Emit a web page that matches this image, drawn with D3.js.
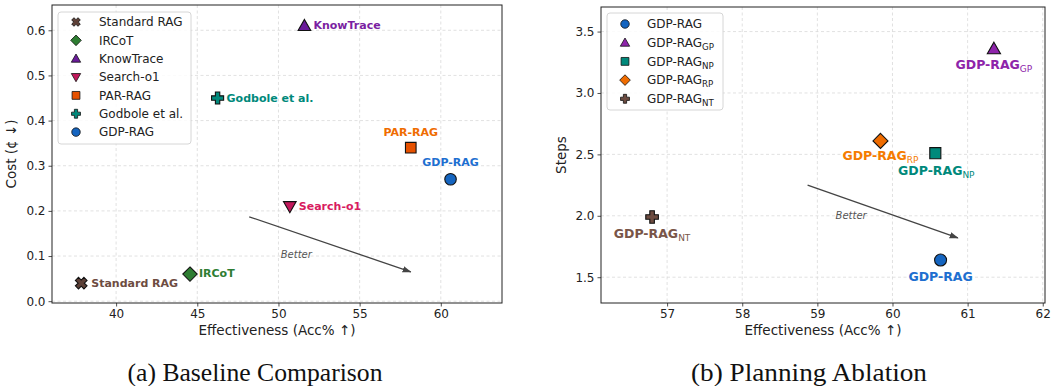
<!DOCTYPE html>
<html><head><meta charset="utf-8">
<script src="https://cdn.jsdelivr.net/npm/d3@7"></script>
<style>
body{margin:0;background:#fff;}
svg{display:block;}
</style></head>
<body><svg id="c" width="1051" height="386" font-family="DejaVu Sans, sans-serif"></svg>
<script>
// ---------- data: (a) Baseline Comparison ----------
const baseMethods = ["Standard RAG","IRCoT","KnowTrace","Search-o1","PAR-RAG","Godbole et al.","GDP-RAG"];
const baseAcc  = [37.85, 44.55, 51.6, 50.7, 58.15, 46.25, 60.6];
const baseCost = [0.04, 0.06, 0.61, 0.21, 0.34, 0.45, 0.27];
const baseXTicks = [40,45,50,55,60];
const baseYTicks = [0.0,0.1,0.2,0.3,0.4,0.5,0.6];
const baseArrow = [[48.2,0.187],[58.15,0.065]];
const baseBetter = [51.1, 0.104];

// ---------- data: (b) Planning Ablation ----------
const ablVariants = [["GDP-RAG",""],["GDP-RAG","GP"],["GDP-RAG","NP"],["GDP-RAG","RP"],["GDP-RAG","NT"]];
const ablAcc   = [60.64, 61.35, 60.57, 59.84, 56.8];
const ablSteps = [1.64, 3.36, 2.51, 2.61, 1.99];
const ablXTicks = [57,58,59,60,61,62];
const ablYTicks = [1.5,2.0,2.5,3.0,3.5];
const ablArrow = [[58.87,2.25],[60.87,1.82]];
const ablBetter = [59.45, 2.0];

// ---------- styles ----------
const baseStyle = {
  "Standard RAG":  {sym:"x",   fill:"#5d4037", text:"#6d4c41", dx:10, dy:0,  anchor:"start"},
  "IRCoT":         {sym:"diamond", fill:"#2e7d32", text:"#2e7d32", dx:9, dy:-1, anchor:"start"},
  "KnowTrace":     {sym:"tri", fill:"#6a1b9a", text:"#7b1fa2", dx:9, dy:-1, anchor:"start"},
  "Search-o1":     {sym:"tridown", fill:"#c2185b", text:"#d81b60", dx:9, dy:0, anchor:"start"},
  "PAR-RAG":       {sym:"square", fill:"#e65100", text:"#ef6c00", dx:0, dy:-16, anchor:"middle"},
  "Godbole et al.":{sym:"plus", fill:"#00897b", text:"#00897b", dx:9, dy:0, anchor:"start"},
  "GDP-RAG":       {sym:"circle", fill:"#1565c0", text:"#1e6fd0", dx:0, dy:-17, anchor:"middle"}
};
const ablStyle = [
  {sym:"circle", fill:"#1565c0", text:"#1e6fd0", dx:0, dy:16, anchor:"middle"},
  {sym:"tri", fill:"#8e24aa", text:"#8e24aa", dx:0, dy:15.5, anchor:"middle"},
  {sym:"square", fill:"#00897b", text:"#00897b", dx:1, dy:17.5, anchor:"middle"},
  {sym:"diamond", fill:"#ef6c00", text:"#f57c00", dx:0, dy:14.5, anchor:"middle"},
  {sym:"plus", fill:"#6d4c41", text:"#795548", dx:0, dy:16, anchor:"middle"}
];

const svg = d3.select("#c");
svg.append("rect").attr("width",1051).attr("height",386).attr("fill","#fff");

const defs = svg.append("defs");
defs.append("marker").attr("id","ah").attr("viewBox","0 0 10 10").attr("refX",9).attr("refY",5)
  .attr("markerWidth",7).attr("markerHeight",7).attr("orient","auto-start-reverse")
  .append("path").attr("d","M0,1.5 L10,5 L0,8.5 z").attr("fill","#444");

function symPath(sym, s){
  const r = s/2;
  switch(sym){
    case "circle": return d3.symbol(d3.symbolCircle, Math.PI*r*r)();
    case "square": return d3.symbol(d3.symbolSquare, s*s*0.85)();
    case "diamond": {const h=r*1.25; return `M0,${-h}L${h},0L0,${h}L${-h},0Z`;}
    case "tri": {const h=r*1.1; return `M0,${-h}L${h},${h*0.75}L${-h},${h*0.75}Z`;}
    case "tridown": {const h=r*1.1; return `M0,${h}L${h},${-h*0.75}L${-h},${-h*0.75}Z`;}
    case "plus":
    case "x": {const a=r*0.38, b=r*1.05; return `M${-a},${-b}H${a}V${-a}H${b}V${a}H${a}V${b}H${-a}V${a}H${-b}V${-a}H${-a}Z`;}
  }
}
function symTransform(sym,x,y){ return `translate(${x},${y})` + (sym==="x"?" rotate(45)":""); }

function panel(cfg){
  const g = svg.append("g");
  const x = d3.scaleLinear().domain(cfg.xdom).range([cfg.L, cfg.R]);
  const y = d3.scaleLinear().domain(cfg.ydom).range([cfg.B, cfg.T]);
  g.append("g").selectAll("line").data(cfg.xt).join("line")
    .attr("x1",d=>x(d)).attr("x2",d=>x(d)).attr("y1",cfg.T).attr("y2",cfg.B)
    .attr("stroke","#d9d9d9").attr("stroke-width",0.8).attr("stroke-dasharray","3,2.5");
  g.append("g").selectAll("line").data(cfg.yt).join("line")
    .attr("y1",d=>y(d)).attr("y2",d=>y(d)).attr("x1",cfg.L).attr("x2",cfg.R)
    .attr("stroke","#d9d9d9").attr("stroke-width",0.8).attr("stroke-dasharray","3,2.5");
  const xa = g.append("g").attr("transform",`translate(0,${cfg.B})`)
    .call(d3.axisBottom(x).tickValues(cfg.xt).tickFormat(d3.format("d")).tickSize(3.5).tickPadding(3));
  const ya = g.append("g").attr("transform",`translate(${cfg.L},0)`)
    .call(d3.axisLeft(y).tickValues(cfg.yt).tickFormat(d3.format(".1f")).tickSize(3.5).tickPadding(3));
  [xa,ya].forEach(a=>{
    a.attr("font-family",null);
    a.select(".domain").remove();
    a.selectAll("text").attr("font-size",12).attr("fill","#222").style("font-family","DejaVu Sans, sans-serif");
    a.selectAll("line").attr("stroke","#222").attr("stroke-width",0.8);
  });
  g.append("rect").attr("x",cfg.L).attr("y",cfg.T).attr("width",cfg.R-cfg.L).attr("height",cfg.B-cfg.T)
    .attr("fill","none").attr("stroke","#222").attr("stroke-width",1);
  g.append("text").attr("x",(cfg.L+cfg.R)/2).attr("y",335).attr("text-anchor","middle")
    .attr("font-size",13.5).attr("fill","#222").text("Effectiveness (Acc% ↑)");
  g.append("text").attr("transform",`translate(${cfg.ylabX},${(cfg.T+cfg.B)/2}) rotate(-90)`)
    .attr("text-anchor","middle").attr("font-size",13.5).attr("fill","#222").text(cfg.ylab);
  g.append("line").attr("x1",x(cfg.arrow[0][0])).attr("y1",y(cfg.arrow[0][1]))
    .attr("x2",x(cfg.arrow[1][0])).attr("y2",y(cfg.arrow[1][1]))
    .attr("stroke","#444").attr("stroke-width",1.3).attr("marker-end","url(#ah)");
  g.append("text").attr("x",x(cfg.better[0])).attr("y",y(cfg.better[1])).attr("dy","0.35em")
    .attr("text-anchor","middle").attr("font-size",10).attr("font-style","italic").attr("fill","#555").text("Better");
  cfg.pts.forEach(p=>{
    g.append("path").attr("d",symPath(p.st.sym,cfg.ms)).attr("transform",symTransform(p.st.sym,x(p.x),y(p.y)))
      .attr("fill",p.st.fill).attr("stroke","#111").attr("stroke-width",1.1);
    const t = g.append("text").attr("x",x(p.x)+p.st.dx).attr("y",y(p.y)+p.st.dy).attr("dy","0.36em")
      .attr("text-anchor",p.st.anchor).attr("font-size",cfg.lfs).attr("font-weight","bold").attr("fill",p.st.text);
    t.append("tspan").text(p.name);
    if(p.sub) t.append("tspan").attr("font-size",cfg.lfs*0.72).attr("font-weight","normal").attr("dy",3).text(p.sub);
  });
  const lg = g.append("g");
  lg.append("rect").attr("x",cfg.leg.x).attr("y",cfg.leg.y).attr("width",cfg.leg.w).attr("height",cfg.leg.h)
    .attr("rx",3).attr("fill","#fff").attr("fill-opacity",0.85).attr("stroke","#d6d6d6").attr("stroke-width",1);
  cfg.pts.forEach((p,i)=>{
    const cy = cfg.leg.y0 + i*cfg.leg.dy;
    lg.append("path").attr("d",symPath(p.st.sym,8.5)).attr("transform",symTransform(p.st.sym,cfg.leg.mx,cy))
      .attr("fill",p.st.fill).attr("stroke","#111").attr("stroke-width",0.8);
    const t = lg.append("text").attr("x",cfg.leg.tx).attr("y",cy).attr("dy","0.36em")
      .attr("font-size",12).attr("fill","#222");
    t.append("tspan").text(p.name);
    if(p.sub) t.append("tspan").attr("font-size",8.7).attr("dy",3).text(p.sub);
  });
}

panel({
  L:52, R:502, T:5, B:303, xdom:[36.05,63.77], ydom:[-0.004,0.656],
  xt:baseXTicks, yt:baseYTicks, ylab:"Cost (¢ ↓)", ylabX:16,
  arrow:baseArrow, better:baseBetter, ms:11.5, lfs:11,
  pts: baseMethods.map((m,i)=>({name:m, sub:"", x:baseAcc[i], y:baseCost[i], st:baseStyle[m]})),
  leg:{x:58, y:12, w:133, h:132, y0:22, dy:18.35, mx:76, tx:99}
});
panel({
  L:601, R:1045, T:7, B:303, xdom:[56.12,62.03], ydom:[1.29,3.70],
  xt:ablXTicks, yt:ablYTicks, ylab:"Steps", ylabX:566,
  arrow:ablArrow, better:ablBetter, ms:12, lfs:12.5,
  pts: ablVariants.map((v,i)=>({name:v[0], sub:v[1], x:ablAcc[i], y:ablSteps[i], st:ablStyle[i]})),
  leg:{x:607, y:13, w:116, h:97, y0:24, dy:18.7, mx:625, tx:647}
});

svg.append("text").attr("x",255).attr("y",381).attr("text-anchor","middle")
  .style("font-family","'Liberation Serif', serif").attr("font-size",24.5)
  .attr("textLength",255).attr("lengthAdjust","spacingAndGlyphs")
  .attr("fill","#111").text("(a) Baseline Comparison");
svg.append("text").attr("x",809).attr("y",381).attr("text-anchor","middle")
  .style("font-family","'Liberation Serif', serif").attr("font-size",24.5)
  .attr("textLength",236).attr("lengthAdjust","spacingAndGlyphs")
  .attr("fill","#111").text("(b) Planning Ablation");
</script></body></html>
